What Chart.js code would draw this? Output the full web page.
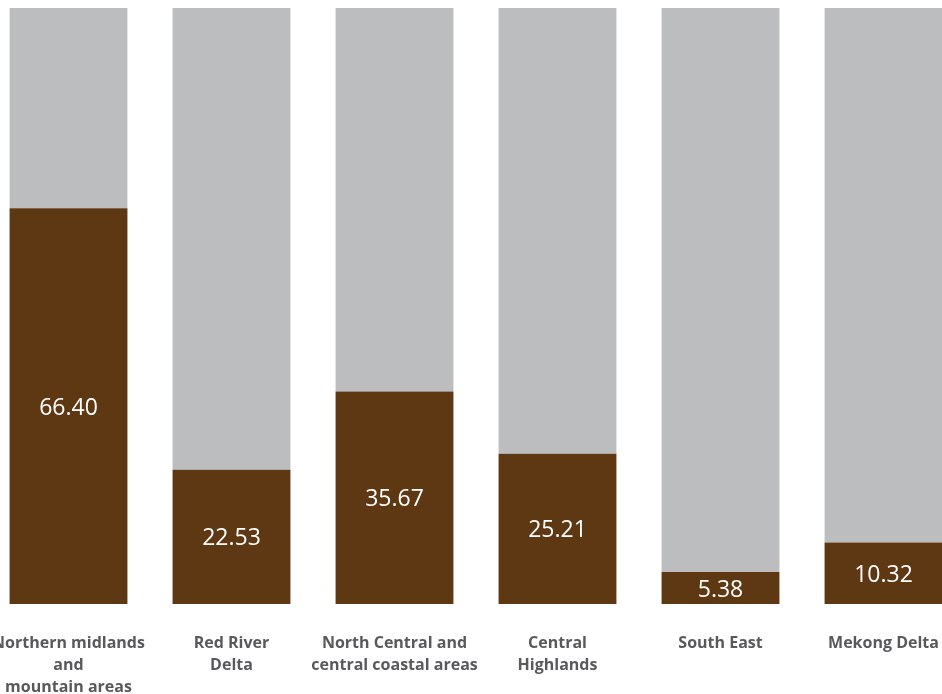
<!DOCTYPE html>
<html>
<head>
<meta charset="utf-8">
<script src="https://cdn.jsdelivr.net/npm/chart.js@4.4.1/dist/chart.umd.min.js"></script>
<style>
  html, body { margin: 0; padding: 0; background: #fff; overflow: hidden; }
  #wrap { position: absolute; left: -13px; top: 0; width: 978px; height: 694px; }
</style>
</head>
<body>
<div id="wrap"><canvas id="chart"></canvas></div>
<script>
// Régions (libellés sur plusieurs lignes)
const regions = [
    ['Northern midlands', 'and', 'mountain areas'],
    ['Red River', 'Delta'],
    ['North Central and', 'central coastal areas'],
    ['Central', 'Highlands'],
    ['South East'],
    ['Mekong Delta']
];
// Part en % (segment brun)
const shares = [66.40, 22.53, 35.67, 25.21, 5.38, 10.32];
// Reste jusqu'à 100 (segment gris)
const remainder = shares.map(v => +(100 - v).toFixed(2));

// Étiquettes blanches au centre des segments bruns
const valueLabels = {
    id: 'valueLabels',
    afterDatasetsDraw(chart) {
        const { ctx } = chart;
        const meta = chart.getDatasetMeta(0);
        ctx.save();
        ctx.fillStyle = '#ffffff';
        ctx.font = '23px "Open Sans", sans-serif';
        ctx.textAlign = 'center';
        ctx.textBaseline = 'middle';
        meta.data.forEach((bar, i) => {
            const mid = (bar.y + bar.base) / 2;
            ctx.fillText(shares[i].toFixed(2), bar.x, mid + 2);
        });
        ctx.restore();
    }
};

const ctx = document.getElementById('chart').getContext('2d');
new Chart(ctx, {
    type: 'bar',
    data: {
        labels: regions,
        datasets: [{
            data: shares,
            backgroundColor: '#5e3813'
        }, {
            data: remainder,
            backgroundColor: '#bcbdbf'
        }]
    },
    options: {
        responsive: true,
        maintainAspectRatio: false,
        animation: false,
        layout: { padding: { top: 8, left: 0, right: 0, bottom: 0 } },
        datasets: { bar: { barPercentage: 0.723, categoryPercentage: 1 } },
        plugins: {
            legend: { display: false },
            tooltip: { enabled: false }
        },
        scales: {
            x: {
                stacked: true,
                grid: { display: false, drawTicks: false },
                border: { display: false },
                ticks: {
                    color: '#58595b',
                    font: { family: '"Open Sans", sans-serif', size: 16, weight: 'bold', lineHeight: 1.375 },
                    padding: 28,
                    maxRotation: 0,
                    autoSkip: false
                },
                afterFit(scale) {
                    // l'axe occupe le bas; pas de marge latérale pour les libellés
                    scale.height = 90;
                    scale.paddingLeft = 0;
                    scale.paddingRight = 0;
                }
            },
            y: {
                stacked: true,
                display: false,
                min: 0,
                max: 100
            }
        }
    },
    plugins: [valueLabels]
});
</script>
</body>
</html>
